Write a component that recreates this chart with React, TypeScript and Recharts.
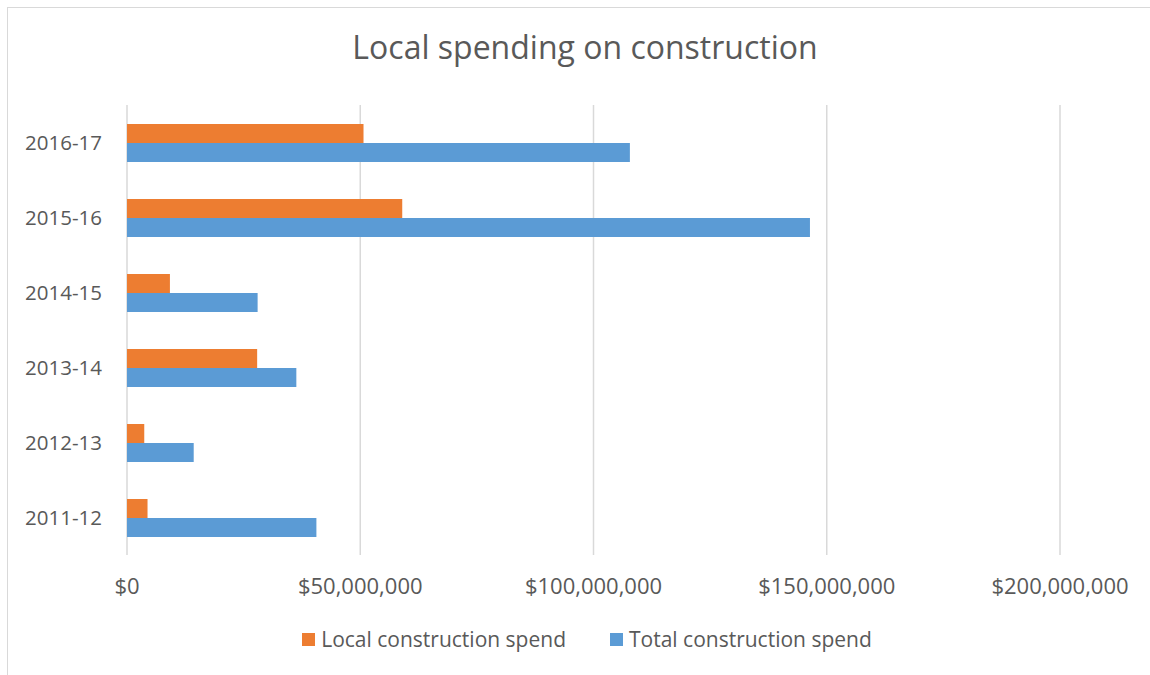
import React from "react";
import { BarChart, Bar, XAxis, YAxis, CartesianGrid } from "recharts";

const categories = ["2011-12", "2012-13", "2013-14", "2014-15", "2015-16", "2016-17"];
const localSpend = [4400000, 3700000, 27900000, 9200000, 59000000, 50700000];
const totalSpend = [40600000, 14300000, 36300000, 28000000, 146400000, 107800000];
const xTicks = [0, 50000000, 100000000, 150000000, 200000000];
const seriesNames = ["Local construction spend", "Total construction spend"];
const seriesColors = ["#ED7D31", "#5B9BD5"];

const data = categories.map((c, i) => ({
  year: c,
  local: localSpend[i],
  total: totalSpend[i],
}));

const FONT = "'Open Sans', sans-serif";
const TEXT = "#595959";

const fmt = (v: number) => "$" + v.toLocaleString("en-US");

export default function App() {
  return (
    <div style={{ position: "absolute", left: 0, top: 0, width: 1150, height: 675, overflow: "hidden", background: "#fff" }}>
      <div
        style={{
          position: "absolute",
          left: 7,
          top: 7,
          width: 1160,
          height: 680,
          border: "1.5px solid #d9d9d9",
          boxSizing: "border-box",
        }}
      />
      <div
        style={{
          position: "absolute",
          left: 0,
          top: 31,
          width: 1170,
          textAlign: "center",
          fontFamily: FONT,
          fontSize: 32,
          lineHeight: "32px",
          color: TEXT,
        }}
      >
        Local spending on construction
      </div>
      <div style={{ position: "absolute", left: 0, top: 0 }}>
        <BarChart
          width={1150}
          height={675}
          data={data}
          layout="vertical"
          margin={{ top: 105, right: 90, bottom: 0, left: 0 }}
          barGap={0}
          barSize={19}
        >
          <CartesianGrid horizontal={false} stroke="#d9d9d9" strokeWidth={1.5} verticalValues={xTicks} />
          <XAxis
            type="number"
            domain={[0, 200000000]}
            ticks={xTicks}
            tickFormatter={fmt}
            axisLine={false}
            tickLine={false}
            tickSize={0}
            tickMargin={23}
            interval={0}
            height={120}
            tick={{ fontFamily: FONT, fontSize: 22, fill: TEXT }}
          />
          <YAxis
            type="category"
            dataKey="year"
            reversed
            width={127}
            axisLine={false}
            tickLine={false}
            tickSize={0}
            tickMargin={25}
            tick={{ fontFamily: FONT, fontSize: 20.5, fill: TEXT }}
          />
          <Bar dataKey="local" name={seriesNames[0]} fill={seriesColors[0]} isAnimationActive={false} />
          <Bar dataKey="total" name={seriesNames[1]} fill={seriesColors[1]} isAnimationActive={false} />
        </BarChart>
      </div>
      <div
        style={{
          position: "absolute",
          left: 0,
          top: 626,
          width: 1174,
          height: 26,
          display: "flex",
          justifyContent: "center",
          alignItems: "center",
          fontFamily: FONT,
          fontSize: 21,
          lineHeight: "26px",
          color: TEXT,
          gap: 44,
        }}
      >
        {seriesNames.map((n, i) => (
          <div key={n} style={{ display: "flex", alignItems: "center" }}>
            <span
              style={{
                display: "inline-block",
                width: 13,
                height: 13,
                background: seriesColors[i],
                marginRight: 6,
              }}
            />
            <span>{n}</span>
          </div>
        ))}
      </div>
    </div>
  );
}
